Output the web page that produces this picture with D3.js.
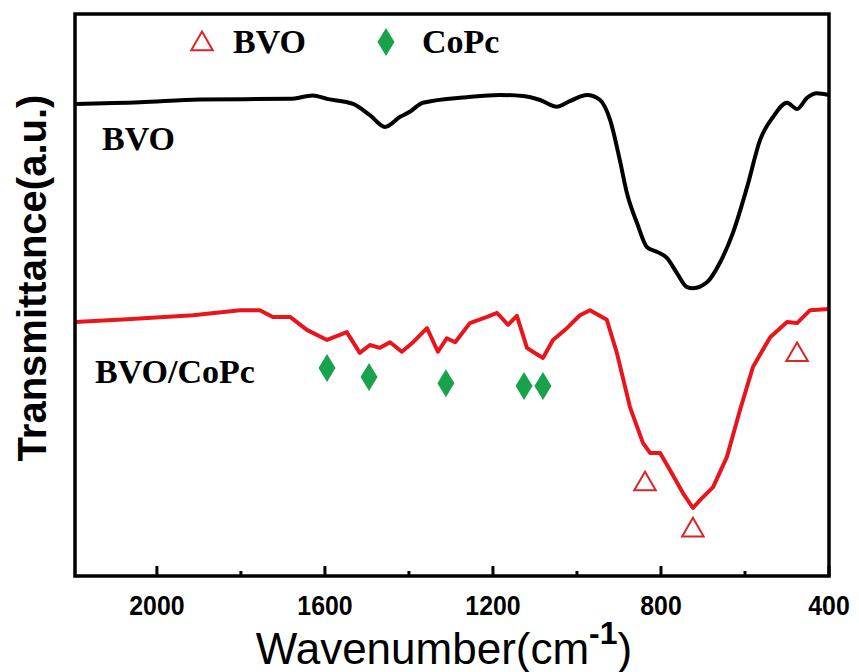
<!DOCTYPE html>
<html><head><meta charset="utf-8">
<script src="https://cdn.jsdelivr.net/npm/d3@7"></script>
<style>body{margin:0;background:#fff}svg{display:block}</style>
</head><body>
<svg id="c" width="859" height="672"></svg>
<script>
// wavenumber (cm^-1)
const bvoWave = [2195,2040,1898,1683,1629,1595,1533,1493,1457,1421,1398,1367,1262,1183,1129,1088,1048,1017,976,945,921,898,881,857,833,810,786,762,738,724,690,660,629,595,564,533,500,476,452,429,400];
const bvoT = [84.0,84.3,84.8,84.9,85.5,84.9,84.0,82.0,79.9,81.7,82.6,84.2,85.2,85.6,85.4,84.7,83.5,84.5,85.6,84.7,81.1,74.0,68.1,62.8,58.5,57.7,56.6,53.9,51.4,51.2,52.3,55.7,61.0,69.2,77.6,81.7,84.2,83.1,85.1,85.9,85.6];
const compWave = [2195,2071,1914,1802,1755,1724,1683,1643,1595,1548,1517,1493,1469,1445,1417,1390,1357,1331,1310,1290,1255,1214,1190,1164,1143,1119,1105,1081,1057,1024,993,969,929,905,874,843,826,802,779,748,724,707,676,643,612,581,540,500,476,445,400];
const compT = [45.2,45.7,46.4,47.3,47.3,46.1,46.1,43.8,42.0,43.4,39.7,41.1,40.6,41.6,39.9,41.6,44.1,39.9,42.3,41.6,45.0,46.1,46.8,44.7,46.3,40.6,39.9,38.8,42.0,44.1,46.4,47.3,45.6,39.7,30.1,23.7,21.9,21.9,18.9,14.8,12.1,13.5,15.8,21.2,29.5,37.2,42.5,45.2,45.0,47.3,47.5];
const bvoMarkWave = [838,724,476];
const bvoMarkT = [16.7,8.5,39.7];
const copcMarkWave = [1595,1495,1312,1126,1081];
const copcMarkT = [37.0,35.4,34.3,33.8,33.8];
const majorTicks = [2000,1600,1200,800,400];
const minorTicks = [1800,1400,1000,600];
const legendLabels = ["BVO","CoPc"];
const curveLabels = ["BVO","BVO/CoPc"];

const svg = d3.select("#c");
const L=75, R=829, T=14, B=576;
const x = d3.scaleLinear().domain([2195,400]).range([L,R]);
const y = d3.scaleLinear().domain([0,100]).range([B,T]);
const RED="#e8161c", GREEN="#19a24c", TRI="#d92626";
const sans = "Liberation Sans, Arial, sans-serif";

// ticks (inward)
const ax = svg.append("g");
ax.selectAll(".maj").data(majorTicks).enter().append("line")
  .attr("x1",d=>x(d)).attr("x2",d=>x(d)).attr("y1",B).attr("y2",B-10)
  .attr("stroke","#000").attr("stroke-width",3);
ax.selectAll(".min").data(minorTicks).enter().append("line")
  .attr("x1",d=>x(d)).attr("x2",d=>x(d)).attr("y1",B).attr("y2",B-5)
  .attr("stroke","#000").attr("stroke-width",3);
ax.selectAll(".lab").data(majorTicks).enter().append("text")
  .attr("transform",d=>`translate(${x(d)},${615}) scale(0.92,1)`)
  .attr("text-anchor","middle").attr("font-weight","bold")
  .attr("font-family",sans).attr("font-size",27)
  .text(d=>d);

// lines
const lineB = d3.line().x(d=>x(d[0])).y(d=>y(d[1])).curve(d3.curveMonotoneX);
const lineR = d3.line().x(d=>x(d[0])).y(d=>y(d[1])).curve(d3.curveLinear);
svg.append("path").datum(d3.zip(bvoWave,bvoT)).attr("d",lineB)
  .attr("fill","none").attr("stroke","#000").attr("stroke-width",4).attr("stroke-linejoin","round");
svg.append("path").datum(d3.zip(compWave,compT)).attr("d",lineR)
  .attr("fill","none").attr("stroke",RED).attr("stroke-width",4).attr("stroke-linejoin","round");

// markers
const tri = d3.symbol().type(d3.symbolTriangle).size(200);
const dia = (w,h)=>`M0,${-h/2}L${w/2},0L0,${h/2}L${-w/2},0Z`;
svg.selectAll(".tri").data(d3.zip(bvoMarkWave,bvoMarkT)).enter().append("path")
  .attr("d",tri).attr("transform",d=>`translate(${x(d[0])},${y(d[1])+2})`)
  .attr("fill","none").attr("stroke",TRI).attr("stroke-width",2);
svg.selectAll(".dia").data(d3.zip(copcMarkWave,copcMarkT)).enter().append("path")
  .attr("d",dia(17,28)).attr("transform",d=>`translate(${x(d[0])},${y(d[1])})`)
  .attr("fill",GREEN);

// frame
svg.append("rect").attr("x",L).attr("y",T).attr("width",R-L).attr("height",B-T)
  .attr("fill","none").attr("stroke","#000").attr("stroke-width",3.5);

// legend
svg.append("path").attr("d",tri).attr("transform","translate(202,44)")
  .attr("fill","none").attr("stroke",TRI).attr("stroke-width",2);
svg.append("path").attr("d",dia(17,28)).attr("transform","translate(386,42)").attr("fill",GREEN);
const serif = "Liberation Serif, Times New Roman, serif";
svg.append("text").attr("x",233).attr("y",53).attr("font-family",serif).attr("font-weight","bold")
  .attr("font-size",34).text(legendLabels[0]);
svg.append("text").attr("x",422).attr("y",53).attr("font-family",serif).attr("font-weight","bold")
  .attr("font-size",34).text(legendLabels[1]);
svg.append("text").attr("x",102).attr("y",150).attr("font-family",serif).attr("font-weight","bold")
  .attr("font-size",34).text(curveLabels[0]);
svg.append("text").attr("x",95).attr("y",383).attr("font-family",serif).attr("font-weight","bold")
  .attr("font-size",34).text(curveLabels[1]);

// axis titles
const xt = svg.append("text").attr("transform","translate(444,664)")
  .attr("text-anchor","middle").attr("font-family",sans)
  .attr("font-size",44);
xt.append("tspan").text("Wavenumber(cm");
xt.append("tspan").attr("dy",-20).attr("font-size",32).attr("font-weight","bold").text("-1");
xt.append("tspan").attr("dy",20).text(")");
svg.append("text").attr("transform","translate(46,278) rotate(-90)")
  .attr("text-anchor","middle").attr("font-family",sans)
  .attr("font-weight","bold").attr("font-size",40).text("Transmittance(a.u.)");
</script>
</body></html>
